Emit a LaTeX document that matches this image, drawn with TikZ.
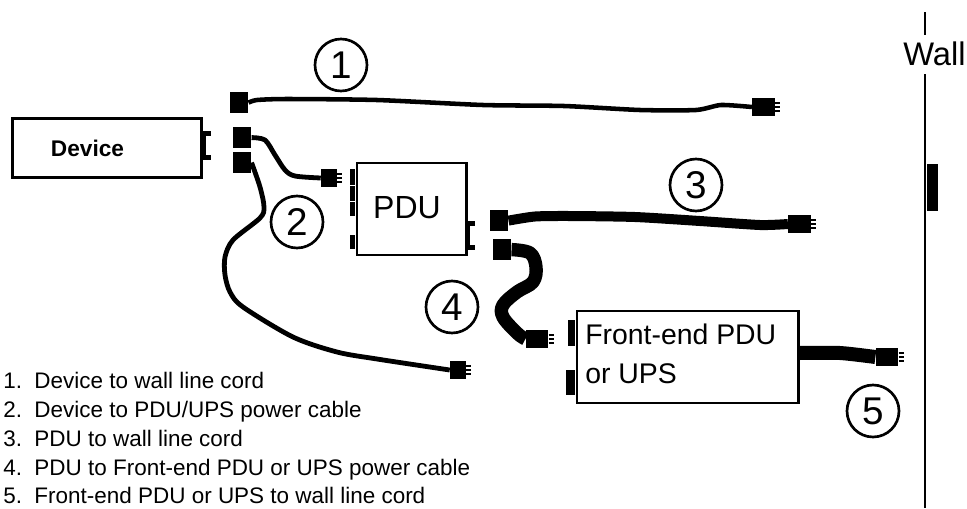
\documentclass[tikz,border=0pt]{standalone}
\usepackage{fontspec}
\setmainfont{Liberation Sans}
\tikzset{
  cable/.style={line width=#1, line cap=butt, line join=round},
  box/.style={draw, line width=2pt, inner sep=0pt, anchor=north west},
  socket/.style={fill=black, inner sep=0pt, anchor=north west},
  male/.style={fill=black, inner sep=0pt, minimum width=17pt, minimum height=13.5pt},
  num/.style={draw, circle, line width=2pt, minimum size=39pt, inner sep=0pt, font=\fontsize{29}{29}\selectfont},
  item/.style={anchor=base west, inner sep=0pt, font=\fontsize{16.85}{16.85}\selectfont}
}
\begin{document}
\begin{tikzpicture}[x=0.75pt, y=-0.75pt]
  \useasboundingbox (0,0) rectangle (967,508);

  % Boxes
  \node[box, minimum width=142pt, minimum height=44.5pt] (device) at (11,117) {};
  \node[font=\fontsize{17}{17}\selectfont\bfseries] (devlabel) at (87.5,148) {Device};
  \node[box, minimum width=82pt, minimum height=69pt] (pdu) at (355.5,161.5) {};
  \node[font=\fontsize{24}{24}\selectfont] (pdulabel) at (407,208) {PDU};
  \node[box, minimum width=166pt, minimum height=69pt] (front) at (575.5,309.5) {};
  \node[anchor=base west, inner sep=0pt, font=\fontsize{21.3}{21.3}\selectfont] (frontA) at (585,344) {Front-end PDU};
  \node[anchor=base west, inner sep=0pt, font=\fontsize{21.3}{21.3}\selectfont] (frontB) at (585,383) {or UPS};

  % Tabs on the boxes
  \fill (202,132) rectangle (206,159);
  \fill (202,131) rectangle (211,136);
  \fill (202,155) rectangle (211,160);
  \fill (350,169) rectangle (355,185);
  \fill (350,186) rectangle (355,201);
  \fill (350,202) rectangle (355,216);
  \fill (350,235) rectangle (355,249);
  \fill (467,221) rectangle (475,226);
  \fill (467,245) rectangle (475,250);
  \fill (467,221) rectangle (470,250);
  \fill (568,320) rectangle (575,346);
  \fill (566,370) rectangle (575,395);

  % Wall
  \coordinate (walltop) at (925,12);
  \coordinate (wallgapA) at (925,35);
  \coordinate (wallgapB) at (925,74);
  \coordinate (wallend) at (925,508);
  \draw[line width=2.2pt] (walltop) -- (wallgapA);
  \draw[line width=2.2pt] (wallgapB) -- (wallend);
  \node[anchor=base, inner sep=0pt, font=\fontsize{24.5}{24.5}\selectfont] (wall) at (934.5,65) {Wall};
  \node[socket, minimum width=8pt, minimum height=35pt] (outlet) at (927,164) {};

  % Sockets
  \node[socket, minimum width=13.5pt, minimum height=15.5pt] (s1) at (230,92) {};
  \node[socket, minimum width=13.5pt, minimum height=15.5pt] (s2a) at (233,127) {};
  \node[socket, minimum width=13.5pt, minimum height=15.5pt] (s2b) at (233,152) {};
  \node[socket, minimum width=13.5pt, minimum height=15.5pt] (s3) at (490,210) {};
  \node[socket, minimum width=13.5pt, minimum height=15.5pt] (s4) at (493,239) {};

  % Plugs
  \node[male, minimum width=17pt] (m1) at (763.5,107) {};
  \node[male, minimum width=12pt] (m2a) at (329,178) {};
  \node[male, minimum width=12pt] (m2b) at (458,370) {};
  \node[male, minimum width=17pt] (m3) at (799.5,224) {};
  \node[male, minimum width=17pt] (m4) at (537,339) {};
  \node[male, minimum width=17pt] (m5) at (887,357) {};
  \foreach \p in {m1, m2a, m2b, m3, m4, m5} {
    \foreach \d in {-4, 0, 4} {
      \draw[line width=1.5pt] ([yshift=\d*0.75pt]\p.east) -- ++(5,0);
    }
  }

  % Cables
  \draw[cable=3.4pt] plot[smooth, tension=0.4] coordinates {(s1.east) (257,100) (287,99) (377,100) (483,105) (564,106) (640,110) (696,110) (721,105) (m1.west)};
  \draw[cable=3.6pt] plot[smooth, tension=0.5] coordinates {(s2a.east) (265,140) (275,155) (285,170) (295,176) (m2a.west)};
  \draw[cable=3.6pt] plot[smooth, tension=0.5] coordinates {(s2b.east) (260,187) (264,207) (260,218) (233,240) (225,257) (225,275) (230,292) (243,307) (293,337) (337,352) (377,359) (m2b.west)};
  \draw[cable=7.5pt] plot[smooth, tension=0.4] coordinates {(s3.east) (535,216.5) (570,216) (635,217) (700,221) (760,225) (m3.west)};
  \draw[cable=10pt] plot[smooth, tension=0.6] coordinates {(s4.east) (530,253) (536,267) (533,282) (517,292) (503,305) (503,317) (517,333) (m4.west)};
  \coordinate (frontout) at (front.east |- 0,353);
  \draw[cable=10.5pt] plot[smooth, tension=0.4] coordinates {(frontout) (840,353) (m5.west)};

  % Numbers
  \node[num] (n1) at (341,65) {1};
  \node[num] (n2) at (297,222) {2};
  \node[num] (n3) at (696,185) {3};
  \node[num] (n4) at (452,307) {4};
  \node[num] (n5) at (873,411) {5};

  % List
  \node[item] (l1) at (3,388) {1.\ \ Device to wall line cord};
  \node[item] (l2) at (3,417) {2.\ \ Device to PDU/UPS power cable};
  \node[item] (l3) at (3,446) {3.\ \ PDU to wall line cord};
  \node[item] (l4) at (3,475) {4.\ \ PDU to Front-end PDU or UPS power cable};
  \node[item] (l5) at (3,503.5) {5.\ \ Front-end PDU or UPS to wall line cord};
\end{tikzpicture}
\end{document}
